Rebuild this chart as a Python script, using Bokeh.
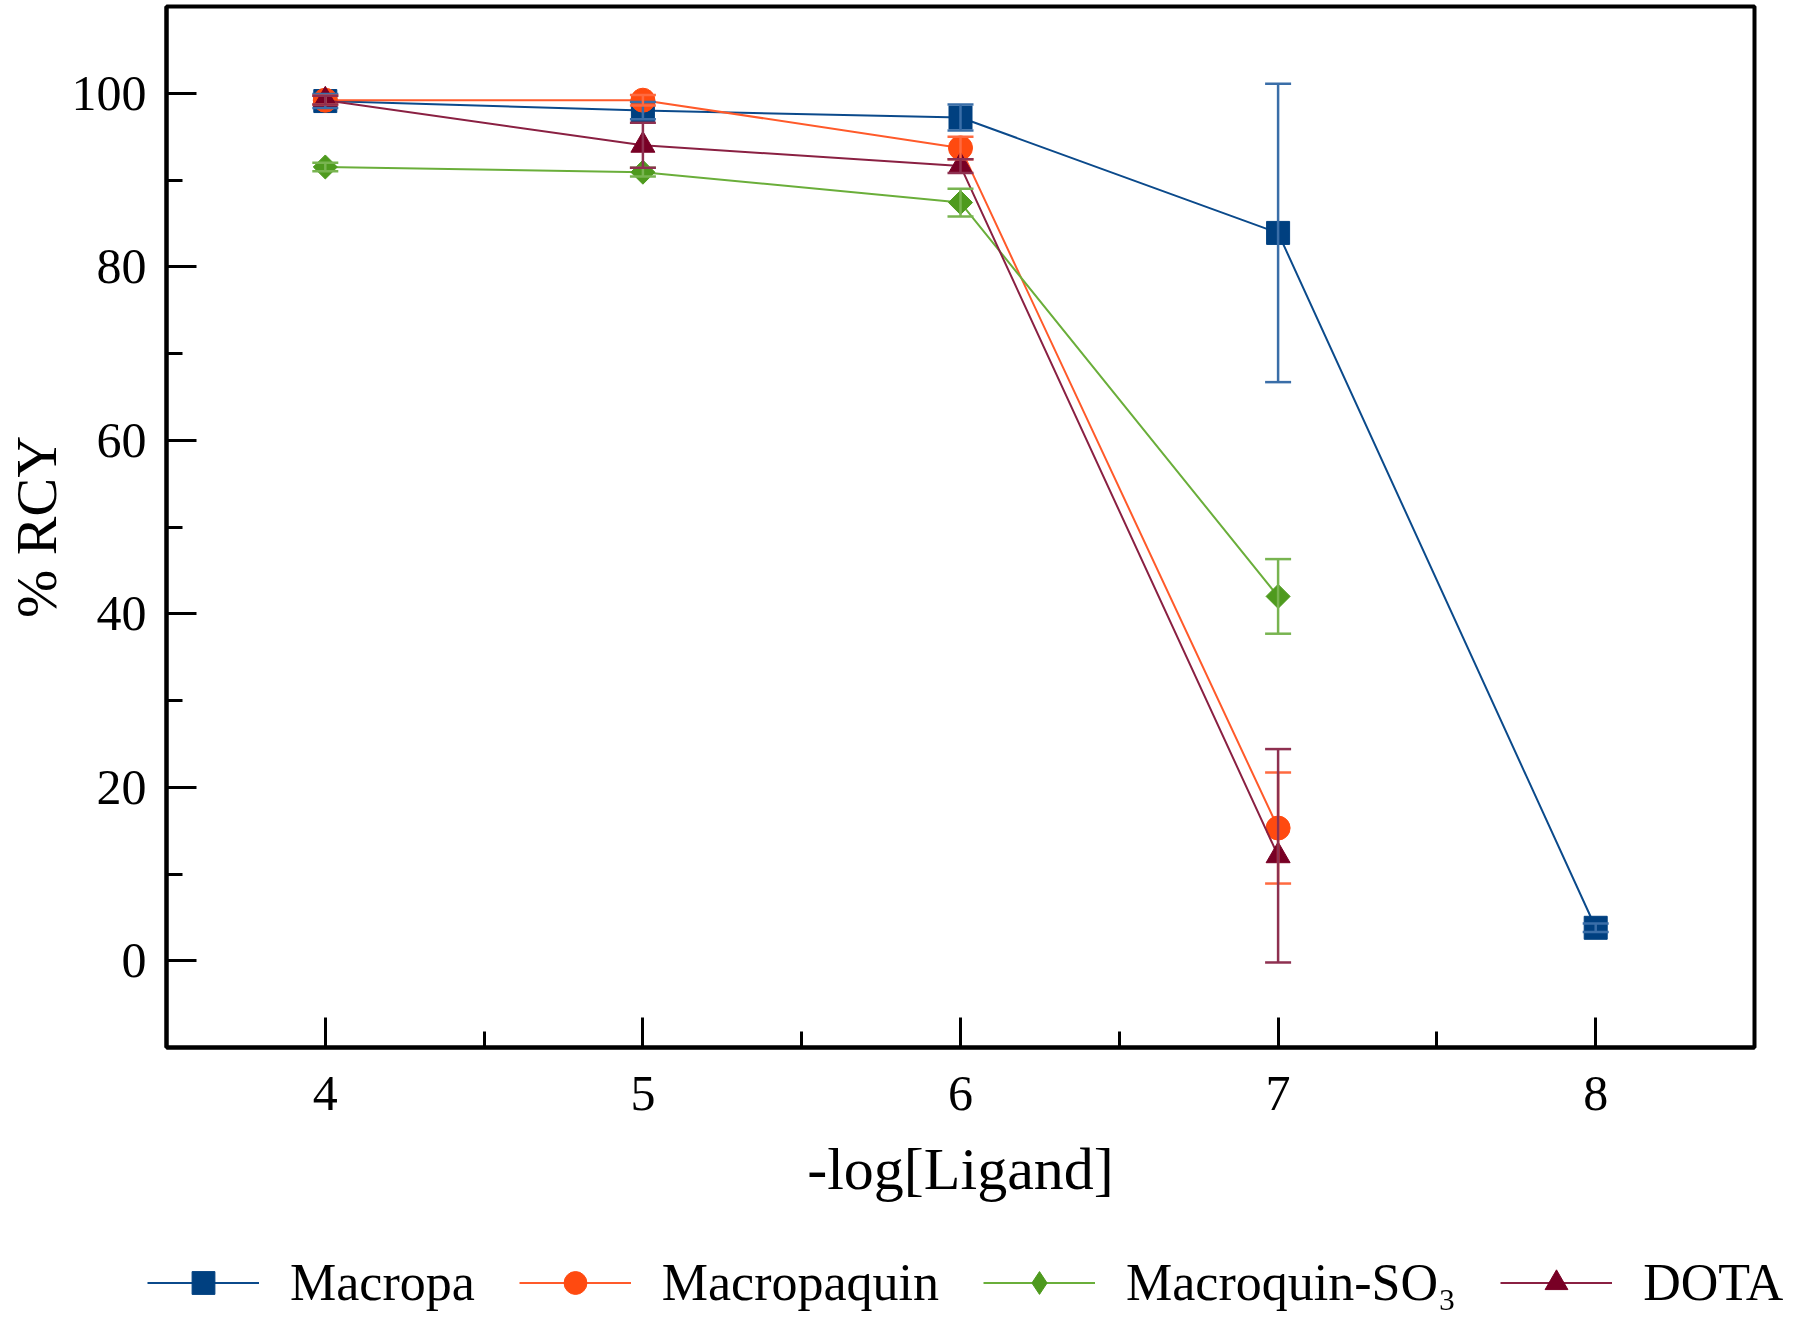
import math
from bokeh.plotting import figure
from bokeh.layouts import column
from bokeh.models import (FixedTicker, Whisker, TeeHead, ColumnDataSource,
                          Legend, LegendItem)
from bokeh.embed import file_html
from bokeh.resources import INLINE

# ---- data ----
x_macropa = [4, 5, 6, 7, 8]
y_macropa = [99.1, 98.0, 97.2, 83.9, 3.8]
e_macropa = [0.8, 1.0, 1.5, 17.2, 0.5]

x_others = [4, 5, 6, 7]
y_macropaquin = [99.2, 99.2, 93.7, 15.3]
e_macropaquin = [0.5, 0.6, 1.3, 6.4]

y_macroquin_so3 = [91.5, 90.9, 87.4, 42.0]
e_macroquin_so3 = [0.5, 0.5, 1.6, 4.3]

y_dota = [99.2, 94.0, 91.6, 12.1]
e_dota = [0.5, 2.6, 0.8, 12.3]

series_names = ["Macropa", "Macropaquin", "Macroquin-SO\u2083", "DOTA"]
x_ticks = [4, 5, 6, 7, 8]
x_minor = [3.5, 4.5, 5.5, 6.5, 7.5, 8.5]
y_ticks = [0, 20, 40, 60, 80, 100]
y_minor = [-10, 10, 30, 50, 70, 90, 110]

FONT = "Liberation Serif"

p = figure(width=1784, height=1230, x_range=(3.5, 8.5), y_range=(-10, 110),
           output_backend="svg", toolbar_location=None,
           min_border_left=166, min_border_right=30, min_border_top=6,
           min_border_bottom=183)
p.grid.visible = False
p.outline_line_color = "black"
p.outline_line_width = 4
p.background_fill_color = "white"

for ax in (p.xaxis[0], p.yaxis[0]):
    ax.axis_line_width = 4
    ax.axis_line_color = "black"
    ax.major_tick_line_width = 3
    ax.minor_tick_line_width = 3
    ax.major_tick_in = 30
    ax.major_tick_out = 0
    ax.minor_tick_in = 16
    ax.minor_tick_out = 0
    ax.major_label_text_font = FONT
    ax.major_label_text_font_size = "50px"
    ax.major_label_text_color = "black"
    ax.axis_label_text_font = FONT
    ax.axis_label_text_font_style = "normal"
    ax.axis_label_text_color = "black"

p.xaxis.ticker = FixedTicker(ticks=x_ticks, minor_ticks=x_minor)
p.yaxis.ticker = FixedTicker(ticks=y_ticks, minor_ticks=y_minor)
p.xaxis.axis_label = "-log[Ligand]"
p.xaxis.axis_label_text_font_size = "60px"
p.xaxis.major_label_standoff = 29
p.xaxis.axis_label_standoff = 23
p.yaxis.axis_label = "% RCY"
p.yaxis.axis_label_text_font_size = "58px"
p.yaxis.major_label_standoff = 20
p.yaxis.axis_label_standoff = 0

# legend strip (separate figure so the legend is not clipped)
p2 = figure(width=1784, height=100, x_range=(0, 1), y_range=(0, 1),
            output_backend="svg", toolbar_location=None,
            x_axis_location=None, y_axis_location=None, min_border=0)
p2.grid.visible = False
p2.outline_line_color = None
try:
    p2.frame_align = False
    legend_x = 141
except AttributeError:
    legend_x = 141 - 166

specs = [
    (x_macropa, y_macropa, e_macropa, "#0B4A8B", "#004080", "#3A6EA8", "square", 23, 0.0, "square"),
    (x_others, y_macropaquin, e_macropaquin, "#FF5A2A", "#FF4A10", "#FF6A40", "circle", 24, 0.0, "circle"),
    (x_others, y_macroquin_so3, e_macroquin_so3, "#6AAE3A", "#4E9A1E", "#78B450", "square", 17, math.pi / 4, "diamond"),
    (x_others, y_dota, e_dota, "#8A2042", "#780025", "#8E3050", "triangle", 24, 0.0, "triangle"),
]

items = []
for name, (xs, ys, es, lc, mc, ec, marker, size, ang, lmarker) in zip(series_names, specs):
    src = ColumnDataSource(dict(x=xs, y=ys,
                                upper=[a + b for a, b in zip(ys, es)],
                                lower=[a - b for a, b in zip(ys, es)]))
    p.line("x", "y", source=src, line_color=lc, line_width=2)
    w = Whisker(base="x", upper="upper", lower="lower", source=src,
                line_color=ec, line_width=2.5, level="glyph",
                upper_head=TeeHead(size=26, line_color=ec, line_width=2.5),
                lower_head=TeeHead(size=26, line_color=ec, line_width=2.5))
    p.add_layout(w)
    p.scatter("x", "y", source=src, marker=marker, size=size, angle=ang,
              fill_color=mc, line_color=mc, line_width=1)
    # legend proxies (their points fall outside the strip's ranges)
    l2 = p2.line("x", "y", source=src, line_color=lc, line_width=2)
    s2 = p2.scatter("x", "y", source=src, marker=lmarker, size=size,
                    fill_color=mc, line_color=mc, line_width=1)
    items.append(LegendItem(label=name, renderers=[l2, s2]))

legend = Legend(items=items, orientation="horizontal", location=(legend_x, 12),
                label_text_font=FONT, label_text_font_size="52px",
                label_text_color="black",
                glyph_width=112, glyph_height=57, label_standoff=31, spacing=44,
                border_line_alpha=0, background_fill_alpha=0,
                padding=6, margin=0)
p2.add_layout(legend)

layout = column(p, p2, spacing=0)
open("out.html", "w").write(file_html(layout, INLINE))
